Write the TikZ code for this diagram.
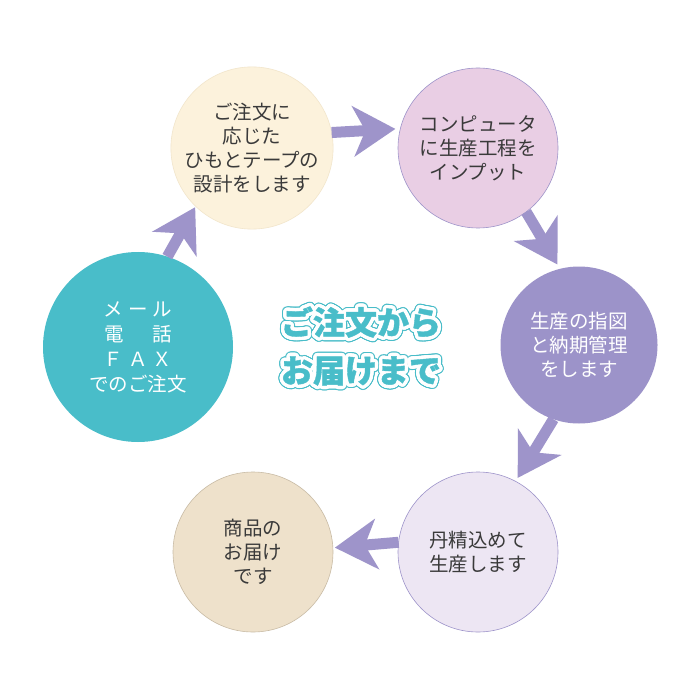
\documentclass[tikz,border=0pt]{standalone}
\usepackage{fontspec}
\newfontfamily\jp{Noto Sans CJK JP}
\newfontfamily\jptitle{Noto Sans CJK JP}[BoldFeatures={FakeBold=1.2}]
\usetikzlibrary{arrows.meta,calc}
\definecolor{creamfill}{HTML}{FCF2DC}
\definecolor{creamline}{HTML}{F2E6CC}
\definecolor{pinkfill}{HTML}{E9CEE4}
\definecolor{purplefill}{HTML}{9C93C9}
\definecolor{lavfill}{HTML}{EDE6F3}
\definecolor{beigefill}{HTML}{EEE1CB}
\definecolor{beigeline}{HTML}{C9BCA6}
\definecolor{tealfill}{HTML}{49BDC9}
\definecolor{arrowcol}{HTML}{9E94CA}
\definecolor{darktext}{HTML}{3A3A3A}
\tikzset{
  stepcircle/.style={circle, minimum size=160pt, inner sep=0pt, outer sep=0pt, align=center,
    font=\jp\fontsize{19.5}{24}\selectfont, text=darktext},
  flowarrow/.style={draw=arrowcol, line width=11pt,
    -{Stealth[length=42pt,width=50pt,inset=12pt,fill=arrowcol]}},
  titletext/.style={align=center, font=\jptitle\bfseries\fontsize{32}{48}\selectfont, inner sep=0pt}
}
\begin{document}
\begin{tikzpicture}[x=1pt,y=-1pt]
\useasboundingbox[fill=white] (0,0) rectangle (700,700);

\node[stepcircle, fill=creamfill, draw=creamline, line width=0.6pt] (c1) at (252,148)
  {ご注文に\\応じた\\ひもとテープの\\設計をします};
\node[stepcircle, fill=pinkfill, draw=arrowcol, line width=0.6pt] (c2) at (478,148)
  {コンピュータ\\に生産工程を\\インプット};
\node[stepcircle, fill=purplefill, text=white, minimum size=157pt] (c3) at (579,345)
  {生産の指図\\と納期管理\\をします};
\node[stepcircle, fill=lavfill, draw=arrowcol, line width=0.6pt] (c4) at (478,552)
  {丹精込めて\\生産します};
\node[stepcircle, fill=beigefill, draw=beigeline, line width=0.6pt] (c5) at (253,552)
  {商品の\\お届け\\です};
\node[stepcircle, fill=tealfill, text=white, minimum size=190pt, font=\jp\fontsize{19.5}{25}\selectfont] (c6) at (138,347)
  {メ\hspace{5pt}ー\hspace{5pt}ル\\電\hspace{29pt}話\\Ｆ\hspace{5pt}Ａ\hspace{5pt}Ｘ\\でのご注文};

\draw[flowarrow, shorten >=5pt] (c1.11) -- (c2.166);
\draw[flowarrow, shorten >=5pt] (c2.-53) -- (c3.104);
\draw[flowarrow, shorten >=4pt] (c3.-109) -- (c4.62);
\draw[flowarrow, shorten >=2pt] (c4.173) -- (c5.3.5);
\draw[flowarrow, shorten >=1pt] (c6.72) -- (c1.-134.5);

\coordinate (ct) at (361,346);
\foreach \a in {0,15,...,345}
  \node[titletext, text=tealfill] at ($(ct)+(\a:4.6)$) {ご注文から\\お届けまで};
\foreach \a in {0,15,...,345}
  \node[titletext, text=white] at ($(ct)+(\a:3.4)$) {ご注文から\\お届けまで};
\node[titletext, text=tealfill] (title) at (ct) {ご注文から\\お届けまで};
\end{tikzpicture}
\end{document}
